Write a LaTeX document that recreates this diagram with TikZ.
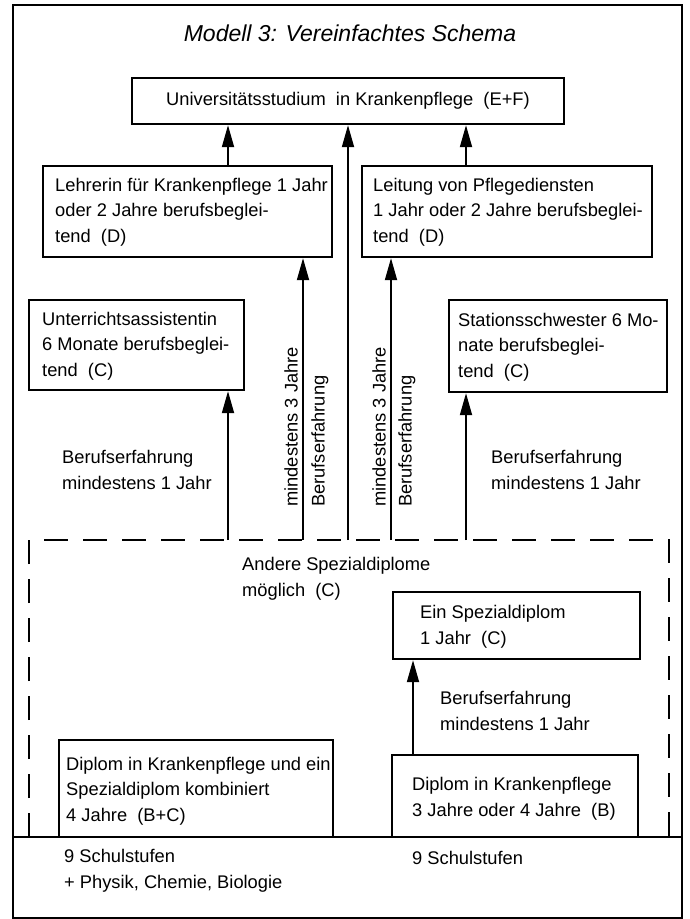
\documentclass[tikz,border=0pt]{standalone}
\usepackage{fontspec}
\setmainfont{Liberation Sans}
\usetikzlibrary{arrows.meta}
\begin{document}
\begin{tikzpicture}[x=1pt,y=-1pt,
  font=\fontsize{18.3}{25.5}\selectfont,
  frm/.style={draw, line width=2.4pt, inner sep=0pt},
  box/.style={draw, line width=2.4pt, inner sep=0pt, fill=white},
  lab/.style={align=left, anchor=west, inner sep=0pt},
  vlab/.style={rotate=90, anchor=west, inner sep=0pt},
  arr/.style={line width=1.9pt, -{Triangle[length=22pt,width=12pt]}},
  dsh/.style={line width=2.4pt, dash pattern=on 24pt off 15pt}]
\useasboundingbox (0,0) rectangle (690,919);
% outer frame and base line
\node[frm, minimum width=669pt, minimum height=913pt] (frame) at (347.5,461.5) {};
\coordinate (sl) at (13,837);
\coordinate (sr) at (682,837);
\draw[line width=2.4pt] (sl) -- (sr);
% title
\node[font=\fontsize{23}{27}\selectfont\itshape] (title) at (350,33) {Modell 3: Vereinfachtes Schema};
% dashed region
\coordinate (dBL) at (29,837);
\coordinate (dTL) at (29,540);
\coordinate (dTR) at (669,540);
\coordinate (dBR) at (669,837);
\draw[dsh] (dBL) -- (dTL) -- (dTR) -- (dBR);
% boxes
\node[box, minimum width=432pt, minimum height=46pt] (top) at (348,101) {Universitätsstudium\ \ in Krankenpflege\ \ (E+F)};
\node[box, minimum width=289pt, minimum height=91pt] (lehrer) at (187.5,211.5) {};
\node[lab] (lehrerT) at (55,212) {Lehrerin für Krankenpflege 1 Jahr\\oder 2 Jahre berufsbeglei-\\tend\ \ (D)};
\node[box, minimum width=290pt, minimum height=91pt] (leitung) at (507,211.5) {};
\node[lab] (leitungT) at (373,212) {Leitung von Pflegediensten\\1 Jahr oder 2 Jahre berufsbeglei-\\tend\ \ (D)};
\node[box, minimum width=215pt, minimum height=90pt] (unter) at (136.5,345) {};
\node[lab] (unterT) at (42,346) {Unterrichtsassistentin\\6 Monate berufsbeglei-\\tend\ \ (C)};
\node[box, minimum width=218pt, minimum height=92pt] (station) at (558,346) {};
\node[lab] (stationT) at (458,347) {Stationsschwester 6 Mo-\\nate berufsbeglei-\\tend\ \ (C)};
\node[box, minimum width=247pt, minimum height=67pt] (ein) at (516.5,625.5) {};
\node[lab] (einT) at (420,627) {Ein Spezialdiplom\\1 Jahr\ \ (C)};
\node[box, minimum width=274pt, minimum height=97pt] (diplL) at (196,788.5) {};
\node[lab] (diplLT) at (66,791) {Diplom in Krankenpflege und ein\\Spezialdiplom kombiniert\\4 Jahre\ \ (B+C)};
\node[box, minimum width=246pt, minimum height=82pt] (diplR) at (515,796) {};
\node[lab] (diplRT) at (412,799) {Diplom in Krankenpflege\\3 Jahre oder 4 Jahre\ \ (B)};
% free labels
\node[lab] (bl) at (62,470) {Berufserfahrung\\mindestens 1 Jahr};
\node[lab] (br) at (491,470) {Berufserfahrung\\mindestens 1 Jahr};
\node[lab] (andere) at (242,579) {Andere Spezialdiplome\\möglich\ \ (C)};
\node[lab] (bm) at (440,711) {Berufserfahrung\\mindestens 1 Jahr};
\node[lab] (schulL) at (64,871) {9 Schulstufen\\+ Physik, Chemie, Biologie};
\node[lab, anchor=base west] (schulR) at (412,864) {9 Schulstufen};
\node[vlab] (v1) at (291,507) {mindestens 3 Jahre};
\node[vlab] (v2) at (320,507) {Berufserfahrung};
\node[vlab] (v3) at (379,507) {mindestens 3 Jahre};
\node[vlab] (v4) at (407,507) {Berufserfahrung};
% arrow x positions
\coordinate (xa) at (228,0);
\coordinate (xb) at (303,0);
\coordinate (xc) at (348,0);
\coordinate (xd) at (391,0);
\coordinate (xe) at (466,0);
\coordinate (xf) at (413,0);
% arrows
\draw[arr] (xa |- lehrer.north) -- (xa |- top.south);
\draw[arr] (xe |- leitung.north) -- (xe |- top.south);
\draw[arr] (xc |- dTL) -- (xc |- top.south);
\draw[arr] (xb |- dTL) -- (xb |- lehrer.south);
\draw[arr] (xd |- dTL) -- (xd |- leitung.south);
\draw[arr] (xa |- dTL) -- (xa |- unter.south);
\draw[arr] (xe |- dTL) -- (xe |- station.south);
\draw[arr] (xf |- diplR.north) -- (xf |- ein.south);
\end{tikzpicture}
\end{document}
